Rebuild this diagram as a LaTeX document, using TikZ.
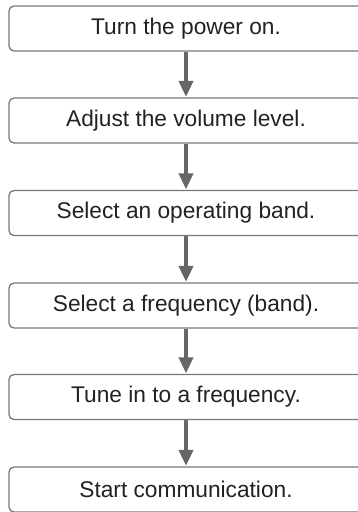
\documentclass[tikz,border=0pt]{standalone}
\usepackage{fontspec}
\setmainfont{Liberation Sans}
\usetikzlibrary{arrows.meta}
\definecolor{boxline}{HTML}{787878}
\definecolor{arrowgrey}{HTML}{666666}
\definecolor{txt}{HTML}{222222}
\begin{document}
\begin{tikzpicture}[x=1pt,y=-1pt,
  stepbox/.style={draw=boxline, line width=1.3pt, rounded corners=5pt,
    minimum width=354pt, minimum height=45pt, inner sep=0pt,
    font=\fontsize{22.7}{26}\selectfont, text=txt, anchor=center},
  flow/.style={draw=arrowgrey, line width=4pt,
    -{Triangle[width=14pt,length=16pt]}, shorten >=0.5pt}]
\useasboundingbox (0,0) rectangle (357,512);
\node[stepbox] (s1) at (186,28.5) {Turn the power on.};
\node[stepbox] (s2) at (186,120.5) {Adjust the volume level.};
\node[stepbox] (s3) at (186,213) {Select an operating band.};
\node[stepbox] (s4) at (186,305.5) {Select a frequency (band).};
\node[stepbox] (s5) at (186,397) {Tune in to a frequency.};
\node[stepbox] (s6) at (186,489.5) {Start communication.};
\draw[flow] (s1) -- (s2);
\draw[flow] (s2) -- (s3);
\draw[flow] (s3) -- (s4);
\draw[flow] (s4) -- (s5);
\draw[flow] (s5) -- (s6);
\end{tikzpicture}
\end{document}
